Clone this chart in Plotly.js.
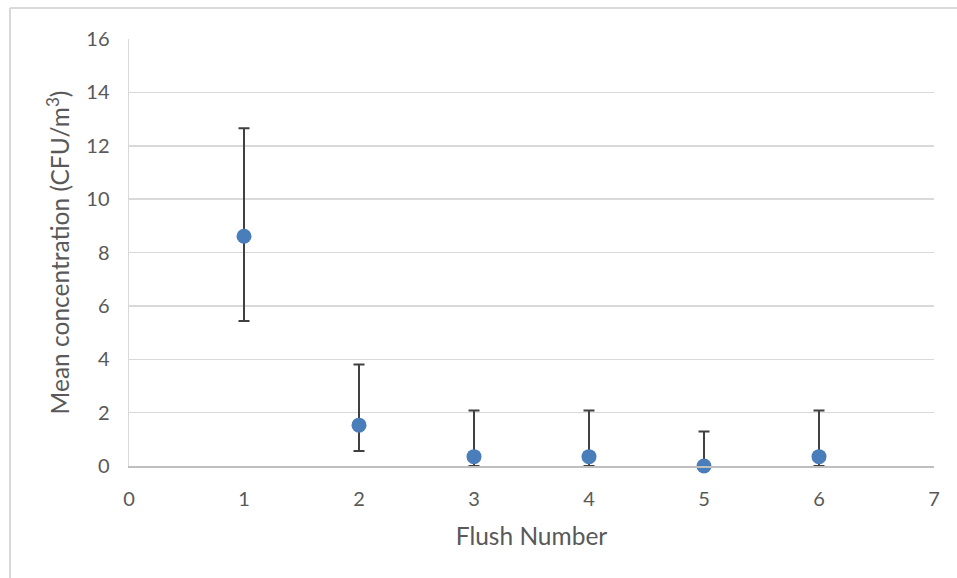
<!DOCTYPE html>
<html>
<head>
<meta charset="utf-8">
<script src="https://cdn.plot.ly/plotly-3.0.1.min.js"></script>
<style>
  html, body { margin: 0; padding: 0; background: #fff; }
  #chart { width: 957px; height: 578px; }
</style>
</head>
<body>
<div id="chart"></div>
<script>
// Data
const flushNumbers = [1, 2, 3, 4, 5, 6];
const meanConcentration = [8.61, 1.53, 0.35, 0.35, 0.0, 0.35];
const upperBound = [12.66, 3.80, 2.08, 2.08, 1.29, 2.08];
const lowerBound = [5.43, 0.56, 0.0, 0.0, 0.0, 0.0];
const xTicks = [0, 1, 2, 3, 4, 5, 6, 7];
const yTicks = [0, 2, 4, 6, 8, 10, 12, 14, 16];

const errPlus = meanConcentration.map((m, i) => upperBound[i] - m);
const errMinus = meanConcentration.map((m, i) => m - lowerBound[i]);

const trace = {
  x: flushNumbers,
  y: meanConcentration,
  type: 'scatter',
  mode: 'markers',
  cliponaxis: false,
  marker: { color: '#4a7ebb', size: 15 },
  error_y: {
    type: 'data',
    symmetric: false,
    array: errPlus,
    arrayminus: errMinus,
    color: '#404040',
    thickness: 2,
    width: 5.5
  },
  showlegend: false,
  hoverinfo: 'x+y'
};

const fontFam = 'Lato, "Open Sans", sans-serif';

const layout = {
  width: 957,
  height: 578,
  margin: { l: 129, r: 23, t: 39, b: 112 },
  paper_bgcolor: '#ffffff',
  plot_bgcolor: '#ffffff',
  font: { family: fontFam, color: '#595959', size: 20 },
  xaxis: {
    range: [0, 7],
    tickvals: xTicks,
    ticktext: xTicks.map(String),
    showgrid: false,
    zeroline: false,
    showline: true,
    linecolor: '#bfbfbf',
    linewidth: 1.5,
    ticks: '',
    ticklen: 0,
    ticklabelstandoff: 14,
    tickfont: { family: fontFam, size: 20, color: '#595959' },
    title: { text: 'Flush Number', font: { family: fontFam, size: 24.5, color: '#595959' }, standoff: 19 },
    fixedrange: true
  },
  yaxis: {
    range: [0, 16],
    tickvals: yTicks,
    ticktext: yTicks.map(String),
    showgrid: true,
    gridcolor: '#d9d9d9',
    gridwidth: 1.5,
    zeroline: false,
    showline: true,
    linecolor: '#d9d9d9',
    linewidth: 1.5,
    ticks: '',
    ticklen: 0,
    ticklabelstandoff: 14,
    tickfont: { family: fontFam, size: 20, color: '#595959' },
    title: { text: 'Mean concentration (CFU/m<sup>3</sup>)', font: { family: fontFam, size: 24.5, color: '#595959' }, standoff: 9 },
    fixedrange: true
  },
  shapes: [
    { type: 'line', xref: 'paper', yref: 'paper',
      x0: (10 - 129) / 805, x1: (960 - 129) / 805,
      y0: (466 - 8) / 427, y1: (466 - 8) / 427,
      line: { color: '#d9d9d9', width: 2 } },
    { type: 'line', xref: 'paper', yref: 'paper',
      x0: (10 - 129) / 805, x1: (10 - 129) / 805,
      y0: (466 - 8) / 427, y1: (466 - 580) / 427,
      line: { color: '#d9d9d9', width: 2 } }
  ]
};

Plotly.newPlot('chart', [trace], layout, { displayModeBar: false, staticPlot: true });
</script>
</body>
</html>
